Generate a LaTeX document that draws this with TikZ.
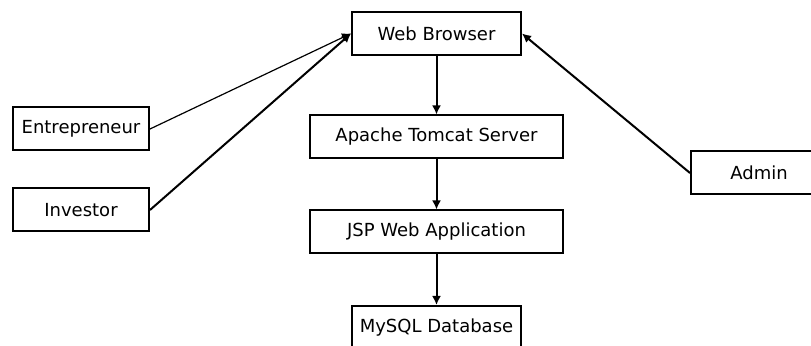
\documentclass[tikz,border=0pt]{standalone}
\usepackage{fontspec}
\setmainfont{DejaVu Sans}
\usetikzlibrary{arrows.meta,positioning}

\begin{document}
\begin{tikzpicture}[x=0.5pt,y=-0.5pt,
  box/.style={draw, line width=1pt, minimum height=21.5pt, inner sep=0pt, font=\fontsize{9}{11}\selectfont},
  link/.style={-{Latex[length=4.5pt,width=4.5pt]}, line width=1pt}]

\useasboundingbox (0,0) rectangle (811,346);

% system
\node[box, minimum width=84.5pt] (browser) at (436.5,33.5) {Web Browser};
\node[box, minimum width=126.5pt] (tomcat) at (436.5,137) {Apache Tomcat Server};
\node[box, minimum width=126.5pt] (jsp) at (436.5,232) {JSP Web Application};
\node[box, minimum width=84.5pt] (mysql) at (436.5,327.5) {MySQL Database};

% users
\node[box, minimum width=68pt] (entrepreneur) at (81,129) {Entrepreneur};
\node[box, minimum width=68pt] (investor) at (81,210) {Investor};
\node[box, minimum width=68pt] (admin) at (759,173) {Admin};

% links
\draw[link] (browser) -- (tomcat);
\draw[link] (tomcat) -- (jsp);
\draw[link] (jsp) -- (mysql);
\draw[link, line width=0.6pt] (entrepreneur.east) -- (browser.west);
\draw[link] (investor.east) -- (browser.west);
\draw[link] (admin.west) -- (browser.east);

\end{tikzpicture}
\end{document}
